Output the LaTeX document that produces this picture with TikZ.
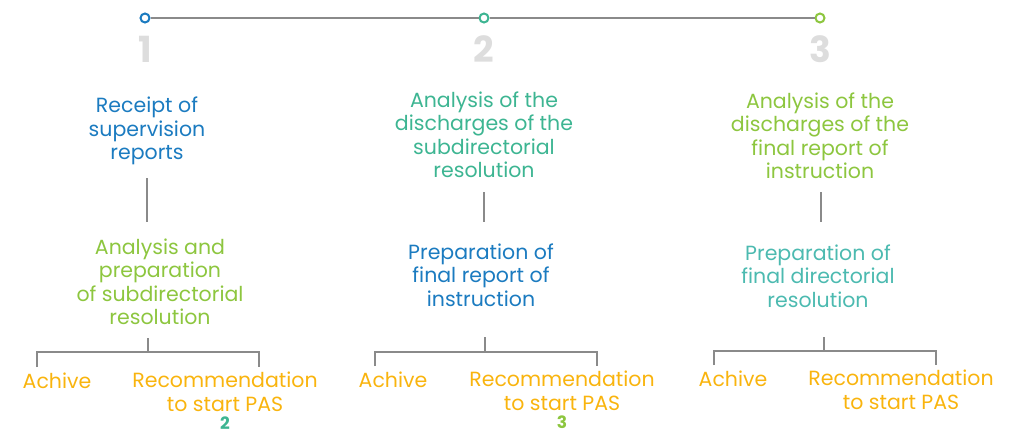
\documentclass[tikz,border=0pt]{standalone}
\usepackage{fontspec}
\setmainfont{Poppins}
\usepackage{tikz}
\usetikzlibrary{calc,positioning}
\definecolor{stepblue}{HTML}{1B7BC0}
\definecolor{stepteal}{HTML}{3DB592}
\definecolor{steplime}{HTML}{8DC63F}
\definecolor{stepcyan}{HTML}{4CBAB0}
\definecolor{stepamber}{HTML}{F9B40E}
\definecolor{stepgray}{HTML}{8A8A8A}
\definecolor{numgray}{HTML}{DDDDDD}

\begin{document}
\begin{tikzpicture}[x=1pt,y=-1pt,
    txt/.style={align=center,inner sep=0pt,font=\fontsize{20.5}{23.5}\selectfont},
    link/.style={stepgray,line width=1.8pt},
    dot/.style={circle,draw=#1,fill=white,line width=2pt,minimum size=9pt,inner sep=0pt},
    bignum/.style={text=numgray,font=\fontsize{36}{36}\selectfont\bfseries},
    smallnum/.style={text=#1,inner sep=0pt,font=\fontsize{17}{17}\selectfont\bfseries}]
        \useasboundingbox (0,0) rectangle (1014,436);
        % timeline
        \node[dot=stepblue] (d1) at (145,18) {};
        \node[dot=stepteal] (d2) at (484,18) {};
        \node[dot=steplime] (d3) at (820,18) {};
        \draw[stepgray,line width=1.2pt] (d1) -- (d2) -- (d3);
        \node[bignum] (n1) at (145,49) {1};
        \node[bignum] (n2) at (484,49) {2};
        \node[bignum] (n3) at (820,49) {3};
        % first column
        \node[txt,text=stepblue] (a1) at (147,131) {Receipt of\\supervision\\reports};
        \node[txt,text=steplime] (b1) at (160,282) {Analysis and\\preparation\\of subdirectorial\\resolution};
        \node[txt,text=stepamber] (c1) at (57,381) {Achive};
        \node[txt,text=stepamber] (e1) at (225,392) {Recommendation\\to start PAS};
        \node[smallnum=stepteal] (m1) at (225,423) {2};
        \coordinate (u1) at (147,178);
        \coordinate (v1) at (147,222);
        \coordinate (s1) at (148,338);
        \coordinate (f1) at (148,352);
        \coordinate (l1) at (37,367);
        \coordinate (r1) at (259,367);
        \draw[link] (u1) -- (v1);
        \draw[link] (s1) -- (f1);
        \draw[link] (l1) |- (f1) -| (r1);
        % second column
        \node[txt,text=stepteal] (a2) at (484,135) {Analysis of the\\discharges of the\\subdirectorial\\resolution};
        \node[txt,text=stepblue] (b2) at (481,275) {Preparation of\\final report of\\instruction};
        \node[txt,text=stepamber] (c2) at (393,380) {Achive};
        \node[txt,text=stepamber] (e2) at (562,391) {Recommendation\\to start PAS};
        \node[smallnum=steplime] (m2) at (562,422) {3};
        \coordinate (u2) at (484,192);
        \coordinate (v2) at (484,222);
        \coordinate (s2) at (485,337);
        \coordinate (f2) at (485,352);
        \coordinate (l2) at (375,366);
        \coordinate (r2) at (597,366);
        \draw[link] (u2) -- (v2);
        \draw[link] (s2) -- (f2);
        \draw[link] (l2) |- (f2) -| (r2);
        % third column
        \node[txt,text=steplime] (a3) at (820,136) {Analysis of the\\discharges of the\\final report of\\instruction};
        \node[txt,text=stepcyan] (b3) at (818,276) {Preparation of\\final directorial\\resolution};
        \node[txt,text=stepamber] (c3) at (733,379) {Achive};
        \node[txt,text=stepamber] (e3) at (901,390) {Recommendation\\to start PAS};
        \coordinate (u3) at (821,192);
        \coordinate (v3) at (821,222);
        \coordinate (s3) at (824,337);
        \coordinate (f3) at (824,351);
        \coordinate (l3) at (714,365);
        \coordinate (r3) at (936,365);
        \draw[link] (u3) -- (v3);
        \draw[link] (s3) -- (f3);
        \draw[link] (l3) |- (f3) -| (r3);
\end{tikzpicture}
\end{document}
